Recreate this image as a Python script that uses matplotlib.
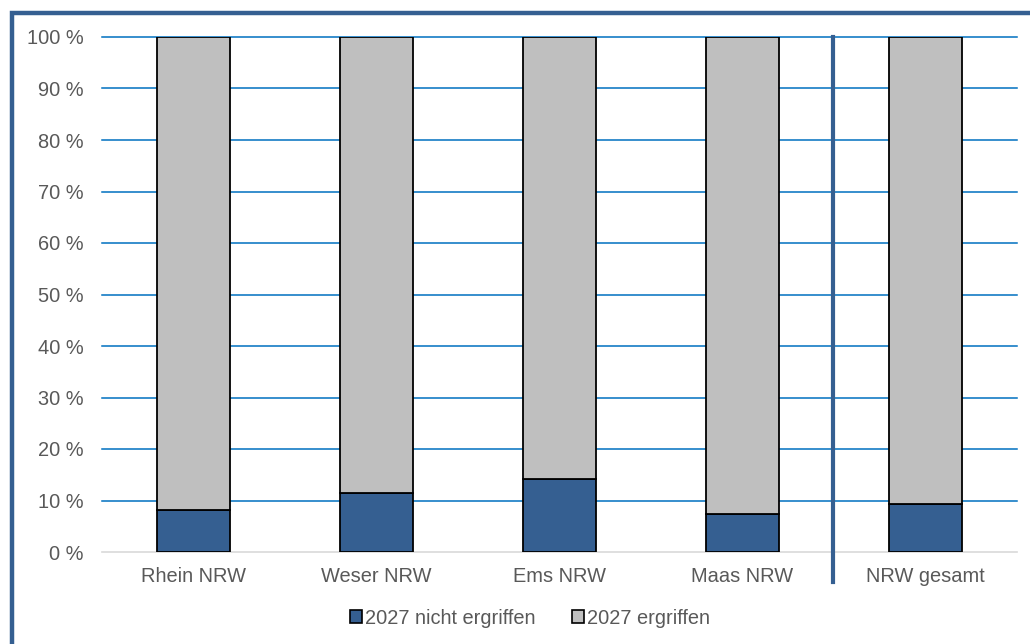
import matplotlib
matplotlib.use("Agg")
import matplotlib.pyplot as plt
from matplotlib.patches import Rectangle
from matplotlib.lines import Line2D
import numpy as np

plt.rcParams['font.family'] = ['Liberation Sans', 'DejaVu Sans']

# Anteile je Flussgebiet in Prozent
gebiete = ["Rhein NRW", "Weser NRW", "Ems NRW", "Maas NRW", "NRW gesamt"]
nicht_ergriffen = [8.2, 11.5, 14.2, 7.4, 9.3]
ergriffen = [100 - v for v in nicht_ergriffen]
serien = ["2027 nicht ergriffen", "2027 ergriffen"]

dunkelblau = "#355F91"
grau = "#BFBFBF"
textgrau = "#595959"
fs = 14.4

W, H = 1030, 644
fig = plt.figure(figsize=(W / 100, H / 100), dpi=100)
ax = fig.add_axes([102 / W, 1 - 552 / H, 915 / W, 515 / H])

x = np.arange(len(gebiete))
breite = 0.404
ax.bar(x, nicht_ergriffen, breite, color=dunkelblau, edgecolor="black",
       linewidth=1.3, zorder=3, label=serien[0])
ax.bar(x, ergriffen, breite, bottom=nicht_ergriffen, color=grau,
       edgecolor="black", linewidth=1.3, zorder=3, label=serien[1])

ax.set_xlim(-0.5, len(gebiete) - 0.5)
ax.set_ylim(0, 100)
ax.set_yticks(range(0, 101, 10))
ax.set_yticklabels([f"{v} %" for v in range(0, 101, 10)])
ax.set_xticks(x)
ax.set_xticklabels(gebiete)
ax.tick_params(axis="both", length=0, labelsize=fs, labelcolor=textgrau)
ax.tick_params(axis="x", pad=11)
ax.tick_params(axis="y", pad=13)

ax.yaxis.grid(True, color="#0070C0", linewidth=1.1, zorder=0)
gitter = ax.get_ygridlines()
for gl in gitter:
    gl.set_clip_on(False)
gitter[0].set_visible(False)  # unten nur die graue Achslinie
for s in ["top", "right", "left"]:
    ax.spines[s].set_visible(False)
ax.spines["bottom"].set_color("#D9D9D9")
ax.spines["bottom"].set_linewidth(1.2)
ax.spines["bottom"].set_zorder(2)

# Trennlinie vor der Gesamtsumme
trenn = Line2D([833 / W, 833 / W], [1 - 37 / H, 1 - 582 / H],
               transform=fig.transFigure, color=dunkelblau, linewidth=3)
fig.add_artist(trenn)

# Rahmen um die Grafik
rahmen = Rectangle((11.5 / W, -0.05), 1.1, 1 - 12.5 / H + 0.05,
                   transform=fig.transFigure, fill=False,
                   edgecolor=dunkelblau, linewidth=3.2)
fig.add_artist(rahmen)

handles = [Rectangle((0, 0), 1, 1, facecolor=dunkelblau, edgecolor="black", linewidth=1.2),
           Rectangle((0, 0), 1, 1, facecolor=grau, edgecolor="black", linewidth=1.2)]
leg = fig.legend(handles, serien, loc="center", bbox_to_anchor=(530 / W, 1 - 618 / H),
                 ncol=2, frameon=False, fontsize=fs, handlelength=0.6,
                 handleheight=0.6, handletextpad=0.15, columnspacing=1.8)
for t in leg.get_texts():
    t.set_color(textgrau)

fig.savefig("out.png", dpi=100)
